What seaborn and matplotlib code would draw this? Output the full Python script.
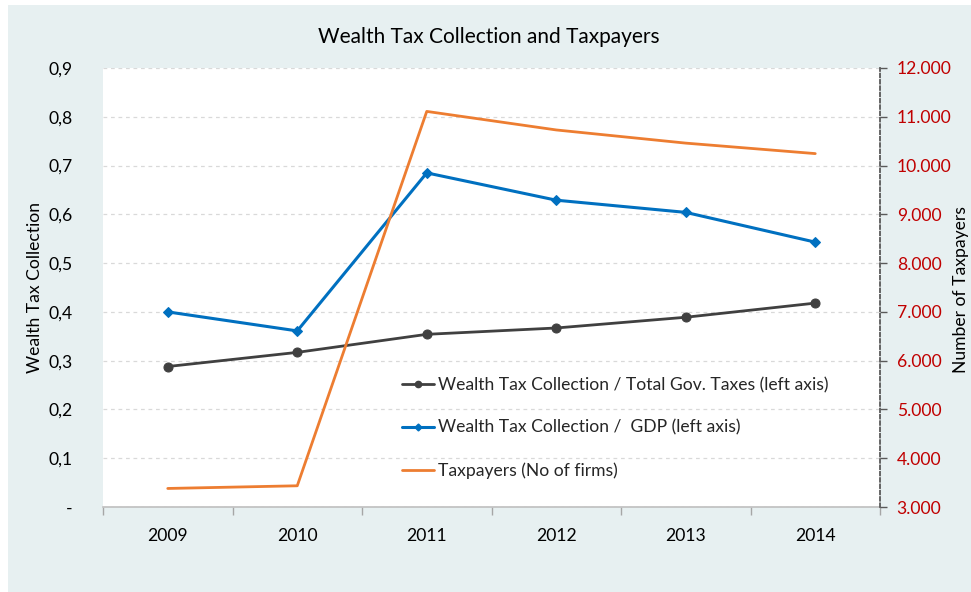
import matplotlib
matplotlib.use("Agg")
import matplotlib.pyplot as plt
import matplotlib.patches as mpatches
from matplotlib.ticker import FuncFormatter, FixedLocator
from matplotlib.lines import Line2D
import seaborn as sns
import pandas as pd
import numpy as np

years = ["2009", "2010", "2011", "2012", "2013", "2014"]
share_total_taxes = [0.288, 0.317, 0.354, 0.367, 0.389, 0.418]
share_gdp = [0.400, 0.361, 0.685, 0.629, 0.604, 0.543]
taxpayers = [3380, 3435, 11110, 10730, 10460, 10245]

label_total = "Wealth Tax Collection / Total Gov. Taxes (left axis)"
label_gdp = "Wealth Tax Collection /  GDP (left axis)"
label_tp = "Taxpayers (No of firms)"

sns.set_theme(style="white")
plt.rcParams['font.family'] = ['Lato', 'DejaVu Sans']

BG = "#e7f0f1"
BLACK = "#404040"
BLUE = "#0070c0"
ORANGE = "#ed7d31"
RED = "#c00000"
FS = 12.6

fig = plt.figure(figsize=(9.71, 5.92), dpi=100)
fig.patch.set_facecolor("white")
fig.patches.append(mpatches.Rectangle((8/971, 0), 1, 1 - 5/592, transform=fig.transFigure,
                                      facecolor=BG, edgecolor="none", zorder=-10))

ax = fig.add_axes([103/971, 1 - 507/592, 777/971, 439/592])
ax.set_facecolor("white")

df = pd.DataFrame({"x": np.arange(len(years)), "total": share_total_taxes,
                   "gdp": share_gdp, "tp": taxpayers})

sns.lineplot(data=df, x="x", y="total", ax=ax, color=BLACK, linewidth=2.0,
             marker="o", markersize=6.5, markeredgecolor=BLACK, zorder=3)
sns.lineplot(data=df, x="x", y="gdp", ax=ax, color=BLUE, linewidth=2.2,
             marker="D", markersize=5, markeredgecolor=BLUE, zorder=3)

ax2 = ax.twinx()
ax2.patch.set_visible(False)
sns.lineplot(data=df, x="x", y="tp", ax=ax2, color=ORANGE, linewidth=2.0, zorder=3)

ax.set_xlim(-0.5, len(years) - 0.5)
ax.set_ylim(0, 0.9)
ax2.set_ylim(3000, 12000)

ax.yaxis.set_major_locator(FixedLocator(np.round(np.arange(0, 0.91, 0.1), 2)))
ax.yaxis.set_major_formatter(FuncFormatter(lambda v, p: "-" if abs(v) < 1e-9 else f"{v:.1f}".replace(".", ",")))
ax2.yaxis.set_major_locator(FixedLocator(np.arange(3000, 12001, 1000)))
ax2.yaxis.set_major_formatter(FuncFormatter(lambda v, p: f"{int(v):,}".replace(",", ".")))

ax.set_xticks(np.arange(len(years)))
ax.set_xticklabels(years)
ax.set_xticks(np.arange(-0.5, len(years) + 0.5, 1), minor=True)
ax.tick_params(axis="x", which="major", length=0, pad=15, labelsize=FS, colors="black")
ax.tick_params(axis="x", which="minor", length=6, width=1, color="#a6a6a6", direction="out", bottom=True)
ax.tick_params(axis="y", length=0, pad=22, labelsize=FS, colors="black")
ax2.tick_params(axis="y", length=5, width=1, color="#595959", direction="out", pad=7,
                labelsize=FS, labelcolor=RED)

ax.grid(axis="y", color="#d9d9d9", linestyle=(0, (3, 3)), linewidth=0.9)
ax.set_axisbelow(True)

for s in ["top", "left", "right"]:
    ax.spines[s].set_visible(False)
ax.spines["bottom"].set_color("#bfbfbf")
ax.spines["bottom"].set_linewidth(1.2)
for s in ["top", "left", "bottom"]:
    ax2.spines[s].set_visible(False)
ax2.spines["right"].set_color("#595959")
ax2.spines["right"].set_linestyle((0, (2, 1.5)))
ax2.spines["right"].set_linewidth(1.3)

ax.set_xlabel("")
ax.set_ylabel("Wealth Tax Collection", fontsize=FS, color="black", labelpad=4)
ax2.set_ylabel("")
fig.text(961/971, 1 - 290/592, "Number of Taxpayers", rotation=90, ha="center", va="center",
         fontsize=FS, color="black")

fig.text(489/971, 1 - 37/592, "Wealth Tax Collection and Taxpayers", ha="center", va="center",
         fontsize=15, color="black")

handles = [
    Line2D([], [], color=BLACK, linewidth=2.0, marker="o", markersize=4.5),
    Line2D([], [], color=BLUE, linewidth=2.2, marker="D", markersize=3.5),
    Line2D([], [], color=ORANGE, linewidth=2.0),
]
leg = ax2.legend(handles, [label_total, label_gdp, label_tp], loc="center left",
                 bbox_to_anchor=(0.365, 0.18), frameon=False, fontsize=FS,
                 handlelength=1.8, handletextpad=0.25, labelspacing=1.5)

fig.savefig("out.png", dpi=100, facecolor=fig.get_facecolor())
